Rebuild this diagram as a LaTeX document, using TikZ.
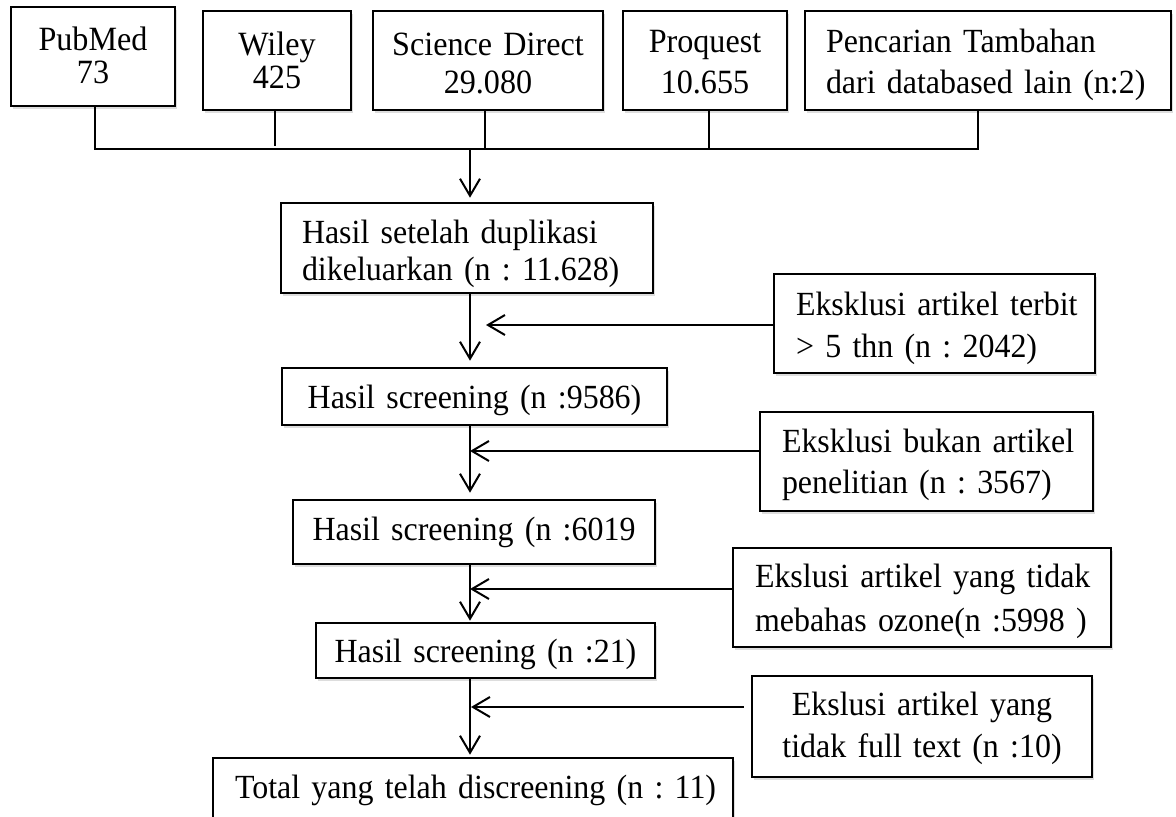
\documentclass[tikz,border=0pt]{standalone}
\usepackage{fontspec}
\setmainfont{Liberation Serif}[FakeStretch=0.945]
\usetikzlibrary{arrows.meta,shadows}
\begin{document}
\frenchspacing
\begin{tikzpicture}[x=1pt,y=-1pt,
  bx/.style={draw, rectangle, line width=2.6pt, fill=white, inner ysep=0pt,
    drop shadow={shadow xshift=1.5pt, shadow yshift=-3pt, opacity=0.22, fill=black!60}},
  cbx/.style={bx, inner xsep=0pt, align=center},
  lbx/.style={bx, align=left},
  ln/.style={line width=2pt},
  arr/.style={line width=2pt, -{Straight Barb[length=17pt,width=20pt]}},
]
\useasboundingbox (0,0) rectangle (1176,817);

% top sources
\node[cbx, minimum width=164pt, minimum height=99pt, text width=164pt, text height=29pt, text depth=42pt,
  font=\fontsize{34}{33}\selectfont] (pub) at (93,56.5) {PubMed\\73};
\node[cbx, minimum width=148pt, minimum height=99pt, text width=148pt, text height=31pt, text depth=42pt,
  font=\fontsize{34}{33}\selectfont] (wiley) at (277,60.5) {Wiley\\425};
\node[cbx, minimum width=230pt, minimum height=99pt, text width=230pt, text height=36pt, text depth=47pt,
  font=\fontsize{34}{38}\selectfont] (sd) at (488,60.5) {Science Direct\\29.080};
\node[cbx, minimum width=164pt, minimum height=99pt, text width=164pt, text height=33pt, text depth=50pt,
  font=\fontsize{34}{41}\selectfont] (pro) at (705,60.5) {Proquest\\10.655};
\node[lbx, inner xsep=21pt, minimum width=366pt, minimum height=99pt, text width=324pt, text height=33pt, text depth=50pt,
  font=\fontsize{33.8}{41}\selectfont] (pen) at (988,60.5) {\mbox{Pencarian Tambahan}\\\mbox{dari databased lain (n:2)}};

% main flow
\node[lbx, inner xsep=21pt, minimum width=372pt, minimum height=90pt, text width=330pt, text height=36pt, text depth=46pt,
  font=\fontsize{33.8}{37}\selectfont] (dup) at (467,248) {\mbox{Hasil setelah duplikasi}\\\mbox{dikeluarkan (n : 11.628)}};
\node[cbx, minimum width=385pt, minimum height=57pt, text width=385pt, text height=32pt, text depth=9pt,
  font=\fontsize{33.8}{38}\selectfont] (s9586) at (474.5,396.5) {Hasil screening (n :9586)};
\node[cbx, minimum width=362pt, minimum height=64pt, text width=362pt, text height=25pt, text depth=9pt,
  font=\fontsize{33.8}{38}\selectfont] (s6019) at (474,532) {Hasil screening (n :6019};
\node[cbx, minimum width=339pt, minimum height=55pt, text width=339pt, text height=32pt, text depth=9pt,
  font=\fontsize{33.8}{38}\selectfont] (s21) at (485.5,650.5) {Hasil screening (n :21)};
\node[lbx, inner xsep=22pt, minimum width=520pt, minimum height=82pt, text width=476pt, text height=7pt, text depth=9pt,
  font=\fontsize{33.8}{38}\selectfont] (total) at (473,799) {\mbox{Total yang telah discreening (n : 11)}};

% exclusions
\node[lbx, inner xsep=22pt, minimum width=321pt, minimum height=99pt, text width=277pt, text height=34pt, text depth=51pt,
  font=\fontsize{33.8}{42}\selectfont] (terbit) at (934.5,323.5) {\mbox{Eksklusi artikel terbit}\\\mbox{> 5 thn (n : 2042)}};
\node[lbx, inner xsep=22pt, minimum width=333pt, minimum height=99pt, text width=289pt, text height=31pt, text depth=50pt,
  font=\fontsize{33.8}{41}\selectfont] (bukan) at (926.5,461.5) {\mbox{Eksklusi bukan artikel}\\\mbox{penelitian (n : 3567)}};
\node[lbx, inner xsep=22pt, minimum width=378pt, minimum height=99pt, text width=334pt, text height=32pt, text depth=53pt,
  font=\fontsize{33.8}{44}\selectfont] (mebahas) at (922,597.5) {\mbox{Ekslusi artikel yang tidak}\\\mbox{mebahas ozone(n :5998 )}};
\node[cbx, minimum width=340pt, minimum height=101pt, text width=340pt, text height=28pt, text depth=51pt,
  font=\fontsize{33.8}{42}\selectfont] (fulltext) at (922,726.5) {Ekslusi artikel yang\\tidak full text (n :10)};

% collecting bus
\coordinate (bus) at (0,149);
\coordinate (spine) at (470,0);
\draw[ln] ([xshift=2pt]pub.south) |- ([xshift=-10pt]pen.south |- bus) -- ([xshift=-10pt]pen.south);
\draw[ln] ([xshift=-2pt]wiley.south) -- ([xshift=-2pt,yshift=3pt]wiley.south |- bus);
\draw[ln] ([xshift=-3pt]sd.south) -- ([xshift=-3pt]sd.south |- bus);
\draw[ln] ([xshift=4pt]pro.south) -- ([xshift=4pt]pro.south |- bus);
\draw[arr] (spine |- bus) -- ([yshift=4pt]dup.north -| spine);

% spine arrows
\draw[arr] (dup.south -| spine) -- ([yshift=6pt]s9586.north -| spine);
\draw[arr] (s9586.south -| spine) -- ([yshift=6pt]s6019.north -| spine);
\draw[arr] (s6019.south -| spine) -- ([yshift=1pt]s21.north -| spine);
\draw[arr] (s21.south -| spine) -- ([yshift=2pt]total.north -| spine);

% exclusion arrows
\coordinate (j1) at (486,325);
\coordinate (j2) at (470,451);
\coordinate (j3) at (470,589);
\coordinate (j4) at (471,707);
\draw[arr] (terbit.west |- j1) -- (j1);
\draw[arr] (bukan.west |- j2) -- (j2);
\draw[arr] (mebahas.west |- j3) -- (j3);
\draw[arr] ([xshift=-7pt]fulltext.west |- j4) -- (j4);
\end{tikzpicture}
\end{document}
